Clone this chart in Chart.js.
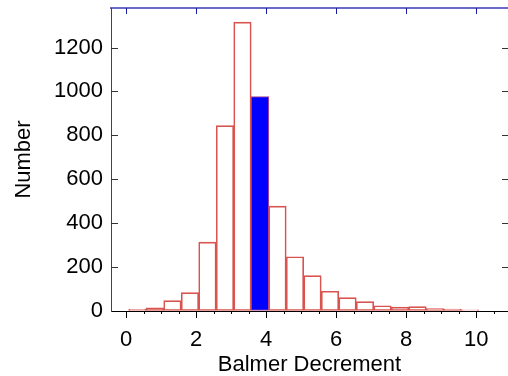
<!DOCTYPE html>
<html>
<head>
<meta charset="utf-8">
<script src="https://cdn.jsdelivr.net/npm/chart.js@4.4.1/dist/chart.umd.min.js"></script>
<style>
  html, body { margin: 0; padding: 0; background: #fff; }
  canvas { display: block; }
</style>
</head>
<body>
<canvas id="chart" width="508" height="376"></canvas>
<script>
// histogram bins (left edges) and counts
const binLeft = [0.075, 0.575, 1.075, 1.575, 2.075, 2.575, 3.075, 3.575, 4.075, 4.575,
                 5.075, 5.575, 6.075, 6.575, 7.075, 7.575, 8.075, 8.575, 9.075, 9.575];
const binWidth = 0.5;
const counts = [8, 15, 47, 84, 314, 844, 1316, 977, 478, 247,
                161, 90, 61, 43, 24, 18, 20, 11, 9, 5];
const highlightBin = 7;
const xMinorTicks = [0, 0.5, 1, 1.5, 2, 2.5, 3, 3.5, 4, 4.5, 5, 5.5, 6, 6.5, 7, 7.5,
                     8, 8.5, 9, 9.5, 10, 10.5];
const xTickLabels = [0, 2, 4, 6, 8, 10];
const yTickLabels = [0, 200, 400, 600, 800, 1000, 1200];

const font = { family: "'Liberation Sans', Arial, sans-serif", size: 22, lineHeight: 1 };

const noPadding = (s) => {
  s.paddingLeft = 0;
  s.paddingRight = 0;
  s.paddingTop = 0;
  s.paddingBottom = 0;
};

const tickMarks = {
  id: "tickMarks",
  afterDraw(chart) {
    const { ctx, chartArea: a, scales } = chart;
    const line = (x1, y1, x2, y2) => {
      ctx.beginPath();
      ctx.moveTo(x1, y1);
      ctx.lineTo(x2, y2);
      ctx.stroke();
    };
    ctx.save();
    ctx.lineWidth = 1;

    ctx.strokeStyle = "#000";
    xMinorTicks.forEach((v) => {
      const px = Math.round(scales.x.getPixelForValue(v)) + 0.5;
      const len = xTickLabels.includes(v) ? 7 : 3;
      line(px, a.bottom, px, a.bottom + len);
    });

    ctx.strokeStyle = "#1a1aa0";
    xTickLabels.forEach((v) => {
      const px = Math.round(scales.x.getPixelForValue(v)) + 0.5;
      line(px, a.top, px, a.top + 6);
    });

    ctx.strokeStyle = "#333";
    yTickLabels.forEach((v) => {
      if (v === 0) return;
      const py = Math.round(scales.y.getPixelForValue(v)) + 0.5;
      line(a.left, py, a.left + 7, py);
      line(a.right - 6, py, a.right, py);
    });
    ctx.restore();
  },
};

new Chart(document.getElementById("chart"), {
  type: "bar",
  data: {
    datasets: [
      {
        data: binLeft.map((x, i) => ({ x: x + binWidth / 2, y: counts[i] })),
        backgroundColor: counts.map((c, i) => (i === highlightBin ? "#0000ff" : "rgba(255,255,255,0)")),
        borderColor: counts.map((c, i) => (i === highlightBin ? "#b0408a" : "#d9534f")),
        borderWidth: 1,
        borderSkipped: false,
        barPercentage: 1,
        categoryPercentage: 1,
      },
    ],
  },
  options: {
    responsive: false,
    animation: false,
    devicePixelRatio: 1,
    layout: { padding: 0 },
    plugins: { legend: { display: false }, tooltip: { enabled: false } },
    scales: {
      x: {
        type: "linear",
        position: "bottom",
        offset: false,
        min: -0.43,
        max: 10.91,
        afterBuildTicks: (s) => { s.ticks = xTickLabels.map((v) => ({ value: v })); },
        afterFit: (s) => { s.height = 65; noPadding(s); },
        border: { display: true, color: "#000", width: 1 },
        grid: { offset: false, drawOnChartArea: false, drawTicks: false },
        ticks: {
          autoSkip: false,
          maxRotation: 0,
          padding: 18,
          color: "#000",
          font: font,
          callback: (v) => String(v),
        },
        title: {
          display: true,
          text: "Balmer Decrement",
          color: "#000",
          font: font,
          padding: { top: 0, bottom: 0 },
        },
      },
      x2: {
        type: "linear",
        position: "top",
        offset: false,
        min: -0.43,
        max: 10.91,
        afterFit: (s) => { s.height = 8; noPadding(s); },
        border: { display: true, color: "#6a6ac8", width: 2 },
        grid: { offset: false, drawOnChartArea: false, drawTicks: false },
        ticks: { display: false },
      },
      y: {
        type: "linear",
        position: "left",
        min: 0,
        max: 1380,
        afterBuildTicks: (s) => { s.ticks = yTickLabels.map((v) => ({ value: v })); },
        afterFit: (s) => { s.width = 111; noPadding(s); },
        border: { display: true, color: "#444", width: 1 },
        grid: { drawOnChartArea: false, drawTicks: false },
        ticks: {
          padding: 8,
          color: "#000",
          font: font,
          callback: (v) => String(v),
        },
        title: {
          display: true,
          text: "Number",
          color: "#000",
          font: font,
          padding: { top: 13, bottom: 0 },
        },
      },
    },
  },
  plugins: [tickMarks],
});
</script>
</body>
</html>
